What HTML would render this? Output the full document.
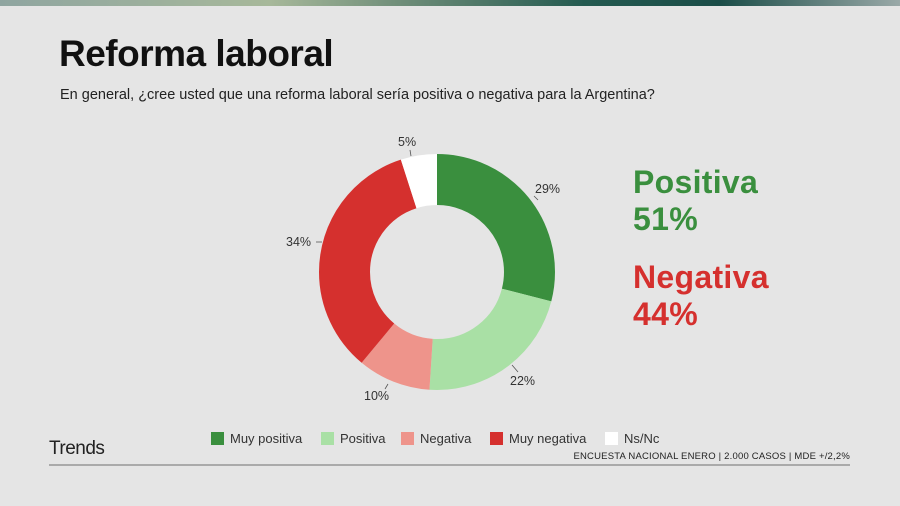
<!DOCTYPE html>
<html><head><meta charset="utf-8"><style>
body{margin:0;width:900px;height:506px;background:#e5e5e5;font-family:"Liberation Sans",sans-serif;position:relative;overflow:hidden}
.bar{position:absolute;left:0;top:0;width:900px;height:6px;background:linear-gradient(90deg,#8fa5a0 0%,#a7b89a 30%,#6d8c78 45%,#245a50 65%,#1b4d48 80%,#9aa9a8 100%)}
.t{position:absolute;left:59px;top:33px;font-size:37px;font-weight:bold;color:#111;letter-spacing:-0.5px}
.s{position:absolute;left:60px;top:87px;font-size:14.5px;color:#222}
.big{position:absolute;left:633px;font-size:32px;font-weight:bold;line-height:37px;letter-spacing:0.3px}
.leg{position:absolute;top:431px;font-size:13px;color:#333}
.leg i{display:inline-block;width:13px;height:13px;vertical-align:-2px;margin-right:6px}
.tr{position:absolute;left:49px;top:438px;font-size:19px;color:#222;letter-spacing:-0.5px}
.ft{position:absolute;right:50px;top:451px;font-size:9.5px;color:#222;letter-spacing:0.2px}
.ln{position:absolute;left:49px;top:464px;width:801px;height:1.5px;background:#aaa}
</style></head><body>
<div class="bar"></div>
<div class="t">Reforma laboral</div>
<div class="s">En general, ¿cree usted que una reforma laboral sería positiva o negativa para la Argentina?</div>
<svg width="900" height="506" style="position:absolute;left:0;top:0">
<g transform="rotate(-90 437 272)" fill="none" stroke-width="51">
<circle cx="437" cy="272" r="92.5" stroke="#3a8f3e" stroke-dasharray="168.55 600" stroke-dashoffset="0"/>
<circle cx="437" cy="272" r="92.5" stroke="#a9e0a5" stroke-dasharray="127.87 600" stroke-dashoffset="-168.55"/>
<circle cx="437" cy="272" r="92.5" stroke="#ee948b" stroke-dasharray="58.12 600" stroke-dashoffset="-296.42"/>
<circle cx="437" cy="272" r="92.5" stroke="#d5302e" stroke-dasharray="197.61 600" stroke-dashoffset="-354.54"/>
<circle cx="437" cy="272" r="92.5" stroke="#ffffff" stroke-dasharray="29.06 600" stroke-dashoffset="-552.15"/>
</g>
<g fill="#333" font-size="12.5" font-family="Liberation Sans,sans-serif">
<text x="535" y="193">29%</text><text x="510" y="385">22%</text><text x="364" y="400">10%</text><text x="286" y="246">34%</text><text x="398" y="146">5%</text>
</g>
<g stroke="#555" stroke-width="0.8">
<line x1="534" y1="196" x2="538" y2="200"/><line x1="512" y1="365" x2="518" y2="372"/><line x1="385" y1="389" x2="388" y2="384"/><line x1="316" y1="242" x2="322" y2="242"/><line x1="410" y1="150" x2="411" y2="156"/>
</g>
</svg>
<div class="big" style="top:164px;color:#3a8f3e">Positiva<br>51%</div>
<div class="big" style="top:259px;color:#d5302e">Negativa<br>44%</div>
<div class="leg" style="left:211px"><i style="background:#3a8f3e"></i>Muy positiva</div>
<div class="leg" style="left:321px"><i style="background:#a9e0a5"></i>Positiva</div>
<div class="leg" style="left:401px"><i style="background:#ee948b"></i>Negativa</div>
<div class="leg" style="left:490px"><i style="background:#d5302e"></i>Muy negativa</div>
<div class="leg" style="left:605px"><i style="background:#fff"></i>Ns/Nc</div>
<div class="tr">Trends</div>
<div class="ft">ENCUESTA NACIONAL ENERO | 2.000 CASOS | MDE +/2,2%</div>
<div class="ln"></div>
</body></html>
